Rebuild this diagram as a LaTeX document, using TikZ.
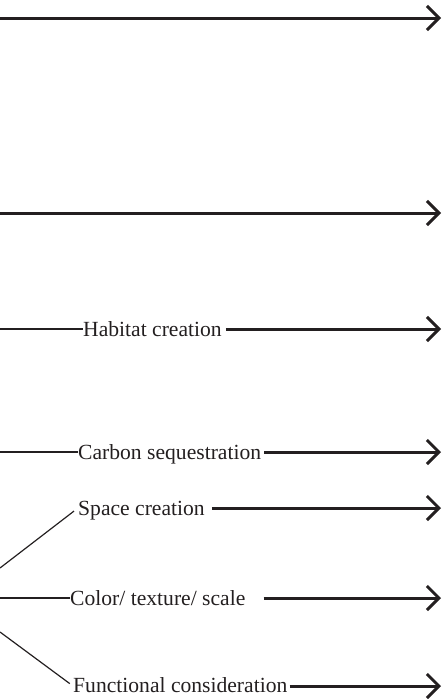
\documentclass[tikz,border=0pt]{standalone}
\usepackage{fontspec}
\setmainfont{Liberation Serif}
\usetikzlibrary{arrows.meta}
\definecolor{ink}{HTML}{231F20}
\begin{document}
\begin{tikzpicture}[x=1pt,y=-1pt,
  lbl/.style={inner sep=0pt, anchor=base west, font=\fontsize{21.6}{24}\selectfont, text=ink},
  thinln/.style={line width=1.2pt, draw=ink},
  arr/.style={line width=3pt, draw=ink, -{Straight Barb[length=12pt,width=24pt]}},
]
\useasboundingbox (0,0) rectangle (443,699);
% plain arrows
\coordinate (s1) at (0,18);  \coordinate (e1) at (441,18);
\coordinate (s2) at (0,213); \coordinate (e2) at (441,213);
\draw[arr] (s1) -- (e1);
\draw[arr] (s2) -- (e2);
% habitat
\coordinate (hs) at (0,329); \coordinate (he) at (441,329);
\node[lbl] (hab) at (83,336.5) {Habitat creation};
\draw[thinln] (hs) -- (hab.west |- hs);
\draw[arr, shorten <=4pt] (hab.east |- he) -- (he);
% carbon
\coordinate (cs) at (0,452); \coordinate (ce) at (441,452);
\node[lbl] (car) at (78,459.5) {Carbon sequestration};
\draw[thinln] (cs) -- (car.west |- cs);
\draw[arr, shorten <=3pt] (car.east |- ce) -- (ce);
% space
\coordinate (ss) at (0,568); \coordinate (se) at (441,508);
\node[lbl] (spc) at (78,515.5) {Space creation};
\draw[thinln, shorten >=5pt] (ss) -- (spc.west |- se);
\draw[arr, shorten <=7pt] (spc.east |- se) -- (se);
% color
\coordinate (ks) at (0,598); \coordinate (ke) at (441,598);
\node[lbl] (col) at (70,605.5) {Color/ texture/ scale};
\draw[thinln] (ks) -- (col.west |- ks);
\draw[arr, shorten <=18pt] (col.east |- ke) -- (ke);
% functional
\coordinate (fs) at (0,632); \coordinate (fe) at (441,686);
\node[lbl] (fun) at (73,692.5) {Functional consideration};
\draw[thinln, shorten >=4pt] (fs) -- (fun.west |- fe);
\draw[arr, shorten <=2pt] (fun.east |- fe) -- (fe);
\end{tikzpicture}
\end{document}
